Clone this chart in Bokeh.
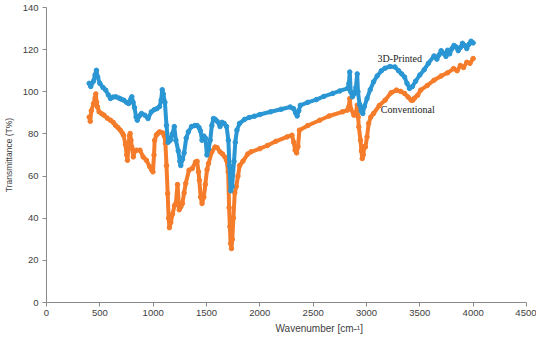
from bokeh.plotting import figure
from bokeh.models import Range1d, FixedTicker, Label, ColumnDataSource, Title
from bokeh.embed import file_html
from bokeh.resources import INLINE

# ---------------- data ----------------
x_ticks = [0, 500, 1000, 1500, 2000, 2500, 3000, 3500, 4000, 4500]
y_ticks = [0, 20, 40, 60, 80, 100, 120, 140]

printed_wn = [400, 415, 440, 455, 468, 480, 500, 530, 555, 580, 600, 625, 650, 680, 700,
              725, 750, 770, 790, 800, 812, 825, 840, 851, 870, 891, 922, 952, 983, 1010,
              1035, 1060, 1075, 1085, 1095, 1110, 1125, 1140, 1160, 1180, 1198, 1213, 1235,
              1250, 1259, 1275, 1290, 1310, 1330, 1360, 1390, 1412, 1430, 1443, 1458, 1475,
              1490, 1504, 1520, 1535, 1550, 1565, 1580, 1600, 1627, 1645, 1665, 1688, 1705,
              1715, 1727, 1740, 1758, 1770, 1785, 1810, 1857, 1900, 1949, 2000, 2101, 2200,
              2285, 2316, 2335, 2350, 2365, 2380, 2450, 2530, 2600, 2684, 2750, 2822, 2835,
              2843, 2852, 2868, 2885, 2900, 2913, 2920, 2935, 2950, 2965, 2980, 3005, 3035,
              3066, 3100, 3140, 3174, 3220, 3266, 3300, 3330, 3357, 3380, 3403, 3430, 3460,
              3500, 3541, 3580, 3633, 3660, 3680, 3700, 3725, 3745, 3760, 3780, 3801, 3820,
              3840, 3860, 3880, 3900, 3920, 3940, 3960, 3980, 4000]
printed_t = [104, 102.5, 105, 108, 110.2, 107, 104, 102, 100.8, 98.5, 96.8, 97.5, 97.6, 97, 96.5,
             96, 95, 94.4, 96.5, 97.6, 95, 92.5, 88, 86.5, 88.5, 89.7, 88.9, 87.3, 90.5, 91.5,
             92, 93, 96, 101, 99, 95, 84, 76, 77, 80, 83.5, 77, 72,
             67, 65, 68, 71, 78, 81, 83.5, 84, 84, 83, 81.5, 77, 79,
             78, 70, 73, 77, 84, 87.3, 87, 86, 83.5, 85.5, 85, 83.5, 77,
             65, 53, 55, 67, 76, 81.8, 85, 86.9, 87.8, 88.4, 89.2, 90.5, 91.7,
             92.8, 92, 90, 88.5, 91, 93.6, 95, 96.3, 97.8, 99.2, 100.4, 101.6, 104,
             109.4, 100, 97.6, 99, 102, 108.5, 100, 94, 91, 89.7, 93, 96.8, 101,
             104.7, 107.5, 110, 111.2, 112, 111.8, 110, 108.5, 107, 104, 101.6, 102.5, 105,
             108, 110.5, 113.5, 117, 115.5, 117.5, 119.5, 118.2, 116.8, 119.7, 118, 120.5, 122,
             121.3, 119.5, 121, 123, 122, 120.5, 122.5, 124, 123.2]

conv_wn = [400, 410, 420, 441, 455, 462, 470, 478, 493, 520, 539, 570, 600, 625, 646, 670,
           692, 710, 722, 740, 752, 759, 768, 778, 784, 792, 800, 814, 830, 845, 876, 906,
           937, 968, 985, 998, 1008, 1014, 1030, 1044, 1060, 1090, 1105, 1115, 1125, 1136,
           1145, 1152, 1165, 1182, 1200, 1213, 1228, 1244, 1260, 1274, 1290, 1305, 1336,
           1366, 1397, 1412, 1425, 1433, 1445, 1458, 1475, 1489, 1505, 1519, 1550, 1580,
           1600, 1627, 1650, 1673, 1688, 1703, 1712, 1719, 1726, 1734, 1742, 1752, 1765,
           1779, 1795, 1811, 1841, 1887, 1917, 2000, 2071, 2150, 2255, 2301, 2318, 2331,
           2345, 2358, 2371, 2450, 2561, 2650, 2775, 2821, 2835, 2843, 2852, 2882, 2900,
           2913, 2922, 2928, 2944, 2952, 2960, 2970, 2980, 2990, 3005, 3020, 3040, 3066,
           3120, 3174, 3230, 3281, 3320, 3357, 3390, 3419, 3434, 3450, 3480, 3508, 3570,
           3633, 3700, 3760, 3817, 3850, 3880, 3910, 3940, 3970, 4000]
conv_t = [88, 86, 91, 94.4, 97, 99, 95, 92.8, 90.5, 89.5, 88.9, 87.5, 86.5, 85.5, 84.1, 83,
          81.8, 80.5, 79.4, 75, 70, 67.5, 74, 79, 80.2, 77, 73.8, 69.1, 72, 72.3, 72.3, 69.1,
          67.5, 64.4, 63, 62, 70, 77, 79.5, 80.2, 81, 80.5, 79, 75.5, 65, 51.7,
          40, 35.5, 38, 42, 46, 47, 56, 44, 45.5, 47, 52, 56.5, 62.8,
          63.6, 66.7, 67, 62, 58, 50, 47, 50, 56, 63, 66, 71.5, 73.8,
          73.5, 71.5, 70.5, 69, 67.5, 62, 45, 36, 28, 25.6, 30, 40, 52,
          55, 60, 65, 67, 70.5, 71.5, 73, 74.5, 76.5, 78.6, 79.4, 76, 72.3,
          71, 74, 81.8, 84, 86.5, 88.5, 90.5, 91.3, 93, 96.8, 92, 88.9, 90,
          93.6, 88, 83.3, 77, 72, 68.3, 70, 74, 73.8, 78.6, 85, 88, 89.7,
          93.5, 96, 99.5, 100.8, 100.2, 99.2, 97.5, 96, 96, 97, 98.4, 100.8, 103,
          105.5, 107.5, 109, 111, 110, 112.5, 111.5, 114, 113.5, 115.8]

BLUE = "#2A96D4"
ORANGE = "#F57C2A"

p = figure(width=536, height=335, output_backend="svg", toolbar_location=None,
           x_range=Range1d(0, 4500), y_range=Range1d(0, 140),
           min_border_left=37, min_border_right=10, min_border_top=5, min_border_bottom=35)
p.styles = {"margin-top": "2px"}
p.outline_line_color = None
p.xgrid.visible = False
p.ygrid.visible = False

src_b = ColumnDataSource(dict(x=printed_wn, y=printed_t))
src_o = ColumnDataSource(dict(x=conv_wn, y=conv_t))
p.line("x", "y", source=src_o, line_color=ORANGE, line_width=4)
p.scatter("x", "y", source=src_o, size=4.5, fill_color=ORANGE, line_color=ORANGE)
p.line("x", "y", source=src_b, line_color=BLUE, line_width=4)
p.scatter("x", "y", source=src_b, size=4.5, fill_color=BLUE, line_color=BLUE)

for ax in (p.xaxis[0], p.yaxis[0]):
    ax.axis_line_color = "#8a8a8a"
    ax.major_tick_line_color = "#8a8a8a"
    ax.major_tick_in = 0
    ax.major_tick_out = 4
    ax.minor_tick_line_color = None
    ax.major_label_text_font = "Liberation Sans"
    ax.major_label_text_font_size = "9.5px"
    ax.major_label_text_color = "#404040"

p.xaxis.ticker = FixedTicker(ticks=x_ticks)
p.yaxis.ticker = FixedTicker(ticks=y_ticks)
p.xaxis.major_label_standoff = 3
p.yaxis.major_label_standoff = 4

p.yaxis.axis_label = "Transmittance (T%)"
p.yaxis.axis_label_text_font = "Liberation Sans"
p.yaxis.axis_label_text_font_size = "8.5px"
p.yaxis.axis_label_text_font_style = "normal"
p.yaxis.axis_label_text_color = "#404040"
p.yaxis.axis_label_standoff = 6

p.add_layout(Title(text="Wavenumber  [cm-\u00b9]", align="left", offset=229, standoff=5,
                   text_font="Liberation Sans", text_font_size="10px",
                   text_font_style="normal", text_color="#404040"), "below")
p.add_layout(Label(x=3103, y=115.6, text="3D-Printed", text_align="left",
                   text_baseline="middle", text_font="Liberation Serif",
                   text_font_size="10px", text_color="#222222"))
p.add_layout(Label(x=3134, y=91.7, text="Conventional", text_align="left",
                   text_baseline="middle", text_font="Liberation Serif",
                   text_font_size="10px", text_color="#222222"))

open("out.html", "w").write(file_html(p, INLINE))
